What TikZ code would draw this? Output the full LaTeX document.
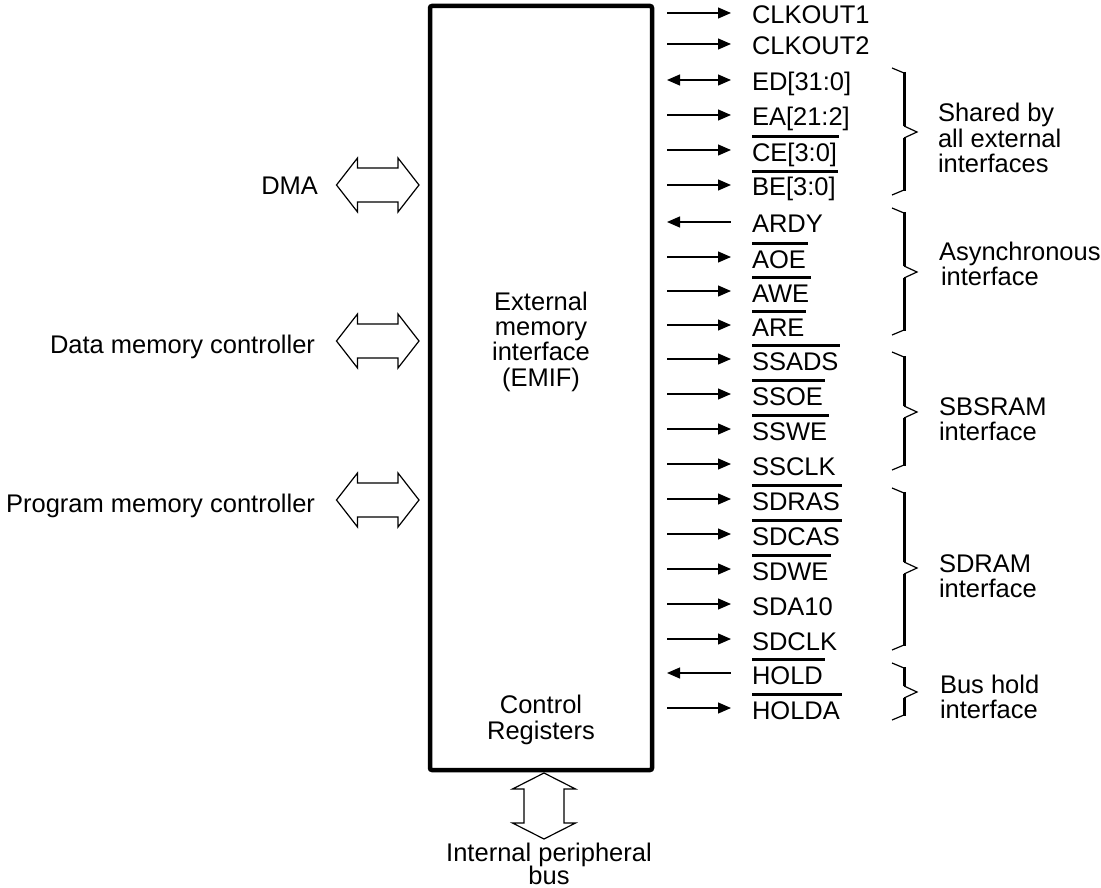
\documentclass[tikz,border=0pt]{standalone}
\usepackage{fontspec}
\setmainfont{Liberation Sans}
\usetikzlibrary{arrows.meta}
\newcommand{\mlines}[2]{\begin{tabular}[t]{@{}#1@{}}#2\end{tabular}}
\tikzset{
  every node/.style={inner sep=0pt, outer sep=0pt, text=black},
  fnt/.style={font=\fontsize{25.5}{#1}\selectfont},
  fnt/.default=24,
  sig/.style={anchor=base west, fnt},
  tipshape/.tip={Triangle[length=13pt,width=11pt]},
  sigout/.style={line width=1.2pt, -tipshape},
  sigin/.style={line width=1.2pt, tipshape-},
  sigbi/.style={line width=1.2pt, tipshape-tipshape},
  ovl/.style={line width=3.3pt},
  brthin/.style={line width=1.2pt},
  brthick/.style={line width=3pt},
  hollow/.style={line width=1.2pt, line join=miter},
  hdbl/.pic={\draw[hollow] (-41.25,0) -- (-20.25,-27) -- (-20.25,-17) -- (20.25,-17) -- (20.25,-27) -- (41.25,0) -- (20.25,27) -- (20.25,17) -- (-20.25,17) -- (-20.25,27) -- cycle;},
  vdbl/.pic={\draw[hollow] (0,-33) -- (-31.5,-17) -- (-20,-17) -- (-20,17) -- (-31.5,17) -- (0,33) -- (31.5,17) -- (20,17) -- (20,-17) -- (31.5,-17) -- cycle;},
}
\begin{document}
\begin{tikzpicture}[x=1pt,y=-1pt]
\useasboundingbox (0,0) rectangle (1101,888);

% main box
\node[draw, line width=4.5pt, rounded corners=2pt, minimum width=222pt, minimum height=764pt] (emif) at (541,388) {};
\node[fnt=25, anchor=base] (emiftxt) at (541,310) {\mlines{c}{External\\memory\\interface\\(EMIF)}};
\node[fnt=26, anchor=base] (ctrl) at (541,713) {\mlines{c}{Control\\Registers}};

% left hollow arrows and labels
\pic (dmaarrow) at (377.75,185) {hdbl};
\pic (dataarrow) at (377.75,341) {hdbl};
\pic (progarrow) at (377.75,500) {hdbl};
\node[fnt, anchor=base east] (dma) at (318,194) {DMA};
\node[fnt, anchor=base east] (dmc) at (315,353) {Data memory controller};
\node[fnt, anchor=base east] (pmc) at (315,512) {Program memory controller};

% bottom bus arrow
\pic (busarrow) at (544,806) {vdbl};
\node[fnt=17, anchor=base] (bus) at (549,861) {\mlines{c}{Internal peripheral\\bus}};

% signals
\foreach \n/\y/\t/\o/\s in {
  clka/13/CLKOUT1/0/sigout,
  clkb/44/CLKOUT2/0/sigout,
  ed/80/ED[31:0]/0/sigbi,
  ea/115/EA[21:2]/0/sigout,
  ce/150/CE[3:0]/1/sigout,
  be/185/BE[3:0]/1/sigout,
  ardy/222/ARDY/0/sigin,
  aoe/257/AOE/1/sigout,
  awe/291/AWE/1/sigout,
  are/325/ARE/1/sigout,
  ssads/359/SSADS/1/sigout,
  ssoe/394/SSOE/1/sigout,
  sswe/429/SSWE/1/sigout,
  ssclk/464/SSCLK/0/sigout,
  sdras/499/SDRAS/1/sigout,
  sdcas/534/SDCAS/1/sigout,
  sdwe/569/SDWE/1/sigout,
  sda/604/SDA10/0/sigout,
  sdclk/639/SDCLK/0/sigout,
  hold/673/HOLD/1/sigin,
  holda/708/HOLDA/1/sigout}{
  \coordinate (\n-a) at (667,\y);
  \coordinate (\n-b) at (731,\y);
  \draw[\s] (\n-a) -- (\n-b);
  \node[sig] (\n) at (752,\y+11) {\t};
  \ifnum\o=1
    \draw[ovl] ([yshift=24.5pt]\n.base west) -- ([yshift=24.5pt,xshift=2pt]\n.base east);
  \fi
}

% braces
\foreach \t/\m/\b in {68/132/195, 208/272/335, 352/412/470, 488/568/650, 663/692/720}{
  \draw[brthin] (892,\t) -- (904,\t+5);
  \draw[brthick] (904,\t+4) -- (904,\m-6);
  \draw[brthin, line join=miter] (904,\m-6) -- (917,\m) -- (904,\m+6);
  \draw[brthick] (904,\m+6) -- (904,\b-4);
  \draw[brthin] (904,\b-5) -- (892,\b);
}

% group labels
\node[fnt=23, anchor=base west] (shared) at (938,122) {\mlines{l}{Shared by\\all external\\interfaces}};
\node[fnt=22.5, anchor=base west] (async) at (939,260) {\mlines{l}{Asynchronous\\\hspace{2pt}interface}};
\node[fnt=25, anchor=base west] (sbsram) at (939,415) {\mlines{l}{SBSRAM\\interface}};
\node[fnt=25, anchor=base west] (sdram) at (939,572) {\mlines{l}{SDRAM\\interface}};
\node[fnt=25, anchor=base west] (bushold) at (940,693) {\mlines{l}{Bus hold\\interface}};
\end{tikzpicture}
\end{document}
